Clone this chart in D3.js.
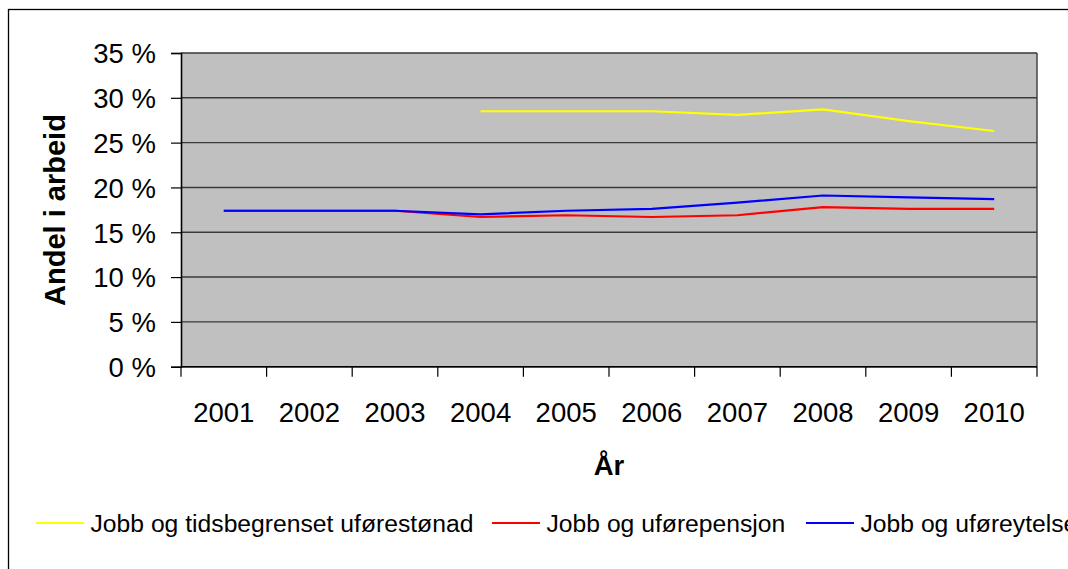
<!DOCTYPE html>
<html>
<head>
<meta charset="utf-8">
<script src="https://cdn.jsdelivr.net/npm/d3@7"></script>
<style>
  html, body { margin: 0; padding: 0; background: #fff; }
  svg { display: block; font-family: "Liberation Sans", Arial, sans-serif; }
</style>
</head>
<body>
<svg id="chart" width="1068" height="569"></svg>
<script>
const years = ["2001","2002","2003","2004","2005","2006","2007","2008","2009","2010"];
const seriesNames = ["Jobb og tidsbegrenset uførestønad", "Jobb og uførepensjon", "Jobb og uføreytelse"];
const seriesColors = ["#ffff00", "#ff0000", "#0000ff"];
const tidsbegrenset = [null, null, null, 28.5, 28.5, 28.5, 28.1, 28.7, 27.4, 26.3];
const uforepensjon  = [17.4, 17.4, 17.4, 16.7, 16.9, 16.7, 16.9, 17.8, 17.6, 17.6];
const uforeytelse   = [17.4, 17.4, 17.4, 17.0, 17.4, 17.6, 18.3, 19.1, 18.9, 18.7];
const yTicks = [0, 5, 10, 15, 20, 25, 30, 35];
const yTitle = "Andel i arbeid";
const xTitle = "År";

const seriesValues = [tidsbegrenset, uforepensjon, uforeytelse];

(function () {
const svg = d3.select("#chart");

// outer frame (extends beyond the right and bottom edges)
svg.append("rect").attr("x", 8.5).attr("y", 9.5).attr("width", 1100).attr("height", 600)
  .attr("fill", "#fff").attr("stroke", "#000").attr("stroke-width", 1.3);

const pLeft = 181, pRight = 1037, pTop = 53, pBottom = 366.7;

const x = d3.scaleBand().domain(years).range([pLeft, pRight]).padding(0);
const y = d3.scaleLinear().domain([0, 35]).range([pBottom, pTop]);

// plot background
svg.append("rect").attr("x", pLeft).attr("y", pTop).attr("width", pRight - pLeft).attr("height", pBottom - pTop)
  .attr("fill", "#c0c0c0");

// gridlines
svg.append("g").selectAll("line").data(yTicks).join("line")
  .attr("x1", pLeft).attr("x2", pRight)
  .attr("y1", d => y(d)).attr("y2", d => y(d))
  .attr("stroke", "#3a3a3a").attr("stroke-width", 1.4);

// right border of plot
svg.append("line").attr("x1", pRight).attr("x2", pRight).attr("y1", pTop).attr("y2", pBottom)
  .attr("stroke", "#3a3a3a").attr("stroke-width", 1.4);

// y axis
const yAxis = d3.axisLeft(y).tickValues(yTicks).tickFormat(d => d + " %").tickSize(10).tickPadding(15);
const gy = svg.append("g").attr("transform", `translate(${pLeft},0)`).call(yAxis);
gy.select(".domain").attr("stroke", "#000").attr("stroke-width", 1.6);
gy.selectAll(".tick line").attr("stroke", "#000").attr("stroke-width", 1.2);
gy.selectAll(".tick text").attr("font-size", 27.5).attr("fill", "#000")
  .attr("font-family", "Liberation Sans, Arial, sans-serif").attr("dy", "0.36em");

// x axis: ticks at category boundaries
const boundaries = years.map(d => x(d)).concat([pRight]);
const gx = svg.append("g");
gx.append("line").attr("x1", pLeft).attr("x2", pRight).attr("y1", pBottom).attr("y2", pBottom)
  .attr("stroke", "#000").attr("stroke-width", 1.6);
gx.selectAll("line.t").data(boundaries).join("line").attr("class", "t")
  .attr("x1", d => d).attr("x2", d => d).attr("y1", pBottom).attr("y2", pBottom + 10)
  .attr("stroke", "#000").attr("stroke-width", 1.2);
gx.selectAll("text").data(years).join("text")
  .attr("x", d => x(d) + x.bandwidth() / 2).attr("y", 422)
  .attr("text-anchor", "middle").attr("font-size", 27.5).attr("fill", "#000")
  .text(d => d);

// axis titles
svg.append("text").attr("transform", "translate(65,210) rotate(-90)")
  .attr("text-anchor", "middle").attr("font-size", 29).attr("font-weight", "bold").text(yTitle);
svg.append("text").attr("x", 609).attr("y", 475)
  .attr("text-anchor", "middle").attr("font-size", 27.5).attr("font-weight", "bold").text(xTitle);

// lines
const line = d3.line()
  .defined(d => d.v !== null)
  .x(d => x(d.year) + x.bandwidth() / 2)
  .y(d => y(d.v));

seriesValues.forEach((vals, i) => {
  const data = years.map((yr, j) => ({ year: yr, v: vals[j] }));
  svg.append("path").datum(data)
    .attr("fill", "none").attr("stroke", seriesColors[i]).attr("stroke-width", 2.2)
    .attr("d", line);
});

// legend
const legendX = [36, 492, 806];
const legendY = 523;
seriesNames.forEach((name, i) => {
  svg.append("line").attr("x1", legendX[i]).attr("x2", legendX[i] + 48)
    .attr("y1", legendY).attr("y2", legendY)
    .attr("stroke", seriesColors[i]).attr("stroke-width", 2.2);
  svg.append("text").attr("x", legendX[i] + 54.5).attr("y", legendY + 9)
    .attr("font-size", 24.7).attr("fill", "#000").text(name);
});
})();
</script>
</body>
</html>
